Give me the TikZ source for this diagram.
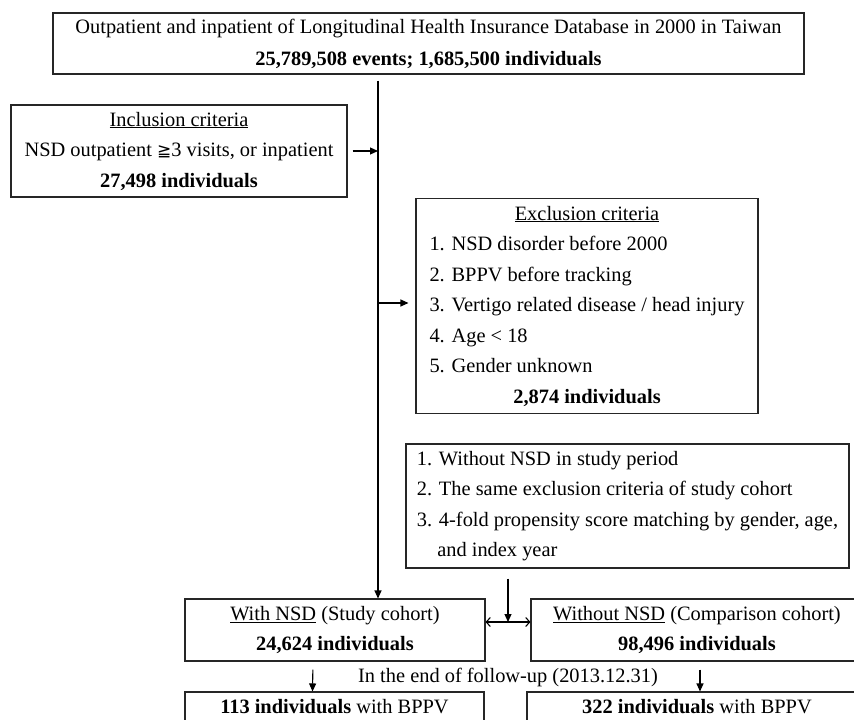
\documentclass[tikz,border=0pt]{standalone}
\usepackage{fontspec}
\setmainfont{Liberation Serif}
\newfontfamily\geqfont{DejaVu Sans}
\usepackage{tikz}
\usetikzlibrary{
  arrows.meta,
  positioning,
  calc
}

\begin{document}
\begin{tikzpicture}[
  x=1pt, y=-1pt,
  flowbox/.style={
    draw=black!85, fill=white, line width=1.1pt, align=center,
    font=\fontsize{20.4}{30.5}\selectfont, inner sep=0pt
  },
  flownote/.style={font=\fontsize{20.4}{30.5}\selectfont, inner sep=0pt},
  flowarrow/.style={-{Triangle[length=8pt,width=7pt]}, line width=1.1pt, draw=black},
  twoway/.style={{Straight Barb[length=4pt,width=9pt]}-{Straight Barb[length=4pt,width=9pt]},
    line width=1.1pt, draw=black}
]
  \useasboundingbox[fill=white] (0,0) rectangle (854,720);

  \node[flowbox, minimum width=751pt, minimum height=61pt] (db) at (428.5,43.5)
    {Outpatient and inpatient of Longitudinal Health Insurance Database in 2000 in Taiwan\\[1.5pt]
     \textbf{25,789,508 events; 1,685,500 individuals}};
  \node[flowbox, minimum width=336pt, minimum height=92pt] (incl) at (179,151)
    {\underline{Inclusion criteria}\\
     NSD outpatient {\geqfont\fontsize{17}{17}\selectfont ≧}3 visits, or inpatient\\
     \textbf{27,498 individuals}};
  \node[flowbox, minimum width=342pt, minimum height=215pt, align=left] (excl) at (587,306)
    {\makebox[315pt]{\underline{Exclusion criteria}}\\
     1. NSD disorder before 2000\\
     2. BPPV before tracking\\
     3. Vertigo related disease / head injury\\
     4. Age < 18\\
     5. Gender unknown\\
     \makebox[315pt]{\textbf{2,874 individuals}}};
  \node[flowbox, minimum width=443pt, minimum height=124pt, align=left] (match) at (627.5,506)
    {1. Without NSD in study period\\
     2. The same exclusion criteria of study cohort\\
     3. 4-fold propensity score matching by gender, age,\\
     \hspace*{1em}and index year};

  \node[flowbox, minimum width=300pt, minimum height=62pt] (study) at (335,630)
    {\underline{With NSD} (Study cohort)\\ \textbf{24,624 individuals}};
  \node[flowbox, minimum width=332pt, minimum height=62pt] (comp) at (697,630)
    {\underline{Without NSD} (Comparison cohort)\\ \textbf{98,496 individuals}};
  \node[flownote] (followup) at (508,677) {In the end of follow-up (2013.12.31)};
  \node[flowbox, minimum width=299pt, minimum height=30pt] (studyout) at (334.5,707)
    {\textbf{113 individuals} with BPPV};
  \node[flowbox, minimum width=340pt, minimum height=30pt] (compout) at (697,707)
    {\textbf{322 individuals} with BPPV};

  \coordinate (trunk) at (378,79);
  \coordinate (mid) at ($(study.east)!0.5!(comp.west)$);

  \draw[flowarrow, shorten <=6pt] (db.south -| trunk) -- (trunk |- study.north);
  \draw[flowarrow, shorten <=5pt] (incl.east) -- (incl.east -| trunk);
  \draw[flowarrow, shorten >=7pt] ([yshift=3pt]trunk |- excl.west) -- ([yshift=3pt]excl.west);
  \draw[flowarrow, shorten <=10pt] (match.south -| mid) -- ([yshift=8pt]mid);
  \draw[twoway] ([yshift=8pt]study.east) -- ([yshift=8pt]comp.west);
  \draw[flowarrow, shorten <=8pt] ([xshift=-22pt]study.south) -- ([xshift=-22pt]studyout.north);
  \draw[flowarrow, shorten <=8pt] ([xshift=3pt]comp.south) -- ([xshift=3pt]compout.north);
\end{tikzpicture}
\end{document}
